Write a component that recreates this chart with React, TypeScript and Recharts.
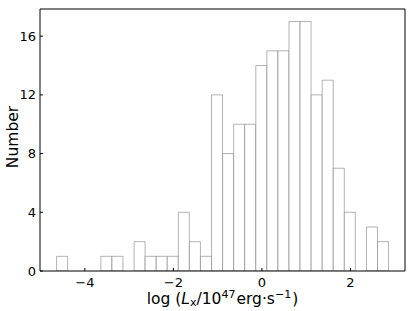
import React from "react";
import { BarChart, Bar, XAxis, YAxis, ReferenceLine } from "recharts";

// Histogram: 30 bins of width 0.25 starting at the first edge
const firstBinEdge = -4.638;
const binWidth = 0.25;
const counts = [1, 0, 0, 0, 1, 1, 0, 2, 1, 1, 1, 4, 2, 1, 12, 8, 10, 10, 14, 15, 15, 17, 17, 12, 13, 7, 4, 0, 3, 2];
const xTicks = [-4, -2, 0, 2];
const yTicks = [0, 4, 8, 12, 16];
const xDomain: [number, number] = [-5.013, 3.232];
const yDomain: [number, number] = [0, 17.85];

const data = counts.map((c, i) => ({
  x: firstBinEdge + binWidth * (i + 0.5),
  count: c,
}));

const FONT = "DejaVu Sans";
const LABEL_SIZE = 15.5;
const SUB_SIZE = 11;

const XLabel = () => (
  <text
    x={222.5}
    y={303.5}
    textAnchor="middle"
    fontFamily={FONT}
    fontSize={LABEL_SIZE}
    fill="#000"
  >
    <tspan>log (</tspan>
    <tspan fontStyle="italic">L</tspan>
    <tspan fontSize={SUB_SIZE} dy={2.5}>x</tspan>
    <tspan dy={-2.5}>/10</tspan>
    <tspan fontSize={SUB_SIZE} dy={-6}>47</tspan>
    <tspan dy={6} dx={1}>erg·s</tspan>
    <tspan fontSize={SUB_SIZE} dy={-6}>−1</tspan>
    <tspan dy={6} dx={1}>)</tspan>
  </text>
);

const YLabel = () => (
  <text
    transform="translate(18.3,137) rotate(-90)"
    x={0}
    y={0}
    textAnchor="middle"
    fontFamily={FONT}
    fontSize={LABEL_SIZE}
    fill="#000"
  >
    Number
  </text>
);

export default function App() {
  return (
    <div style={{ position: "absolute", left: 0, top: 0 }}>
      <BarChart
        width={415}
        height={311}
        data={data}
        margin={{ top: 9, right: 10, bottom: 0, left: 0 }}
        barCategoryGap={0}
        barGap={0}
      >
        <XAxis
          dataKey="x"
          type="number"
          domain={xDomain}
          ticks={xTicks}
          allowDataOverflow
          height={40}
          tickSize={-3}
          tickMargin={10}
          tick={{ fontFamily: FONT, fontSize: 13, fill: "#000" }}
          tickFormatter={(v: number) => (v < 0 ? `−${Math.abs(v)}` : `${v}`)}
          axisLine={{ stroke: "#000", strokeWidth: 1 }}
          tickLine={{ stroke: "#000" }}
          label={<XLabel />}
        />
        <YAxis
          type="number"
          domain={yDomain}
          ticks={yTicks}
          allowDataOverflow
          width={40}
          tickSize={-3}
          tickMargin={7}
          tick={{ fontFamily: FONT, fontSize: 13, fill: "#000" }}
          axisLine={{ stroke: "#000", strokeWidth: 1 }}
          tickLine={{ stroke: "#000" }}
          label={<YLabel />}
        />
        <Bar
          dataKey="count"
          fill="#ffffff"
          stroke="#808080"
          strokeOpacity={0.6}
          strokeWidth={1}
          isAnimationActive={false}
        />
        <ReferenceLine y={yDomain[1]} stroke="#000" strokeWidth={1} ifOverflow="visible" />
        <ReferenceLine x={xDomain[1]} stroke="#000" strokeWidth={1} ifOverflow="visible" />
      </BarChart>
    </div>
  );
}
